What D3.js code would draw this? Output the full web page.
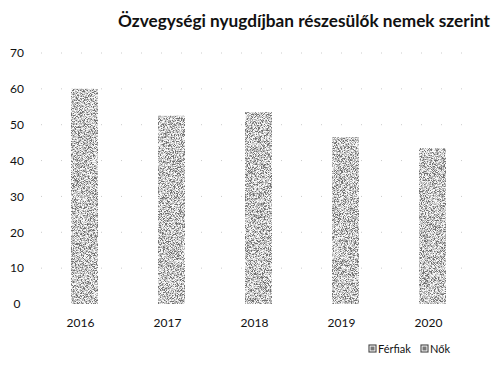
<!DOCTYPE html>
<html>
<head>
<meta charset="utf-8">
<script src="https://cdn.jsdelivr.net/npm/d3@7"></script>
<style>
  html, body { margin: 0; padding: 0; background: #fff; }
  svg { display: block; }
  text { font-family: Lato, "Open Sans", sans-serif; fill: #111; }
</style>
</head>
<body>
<svg id="chart" width="495" height="371"></svg>
<script>
// Chart data
const title = "Özvegységi nyugdíjban részesülők nemek szerint";
const years = ["2016", "2017", "2018", "2019", "2020"];
const values = [60, 52.5, 53.5, 46.5, 43.5];
const yTicks = [0, 10, 20, 30, 40, 50, 60, 70];
const legendLabels = ["Férfiak", "Nők"];

const svg = d3.select("#chart");

// Speckled print-like texture for the bars
const defs = svg.append("defs");
const f = defs.append("filter").attr("id", "grain")
  .attr("x", "0").attr("y", "0").attr("width", "1").attr("height", "1")
  .attr("filterUnits", "objectBoundingBox");
f.append("feTurbulence").attr("type", "fractalNoise")
  .attr("baseFrequency", "1.3").attr("numOctaves", 2).attr("seed", 7).attr("result", "noise");
f.append("feColorMatrix").attr("in", "noise").attr("type", "matrix")
  .attr("values", "0 0 0 0 0  0 0 0 0 0  0 0 0 0 0  3 0 0 0 -1.05").attr("result", "a");
f.append("feComponentTransfer").attr("in", "a").attr("result", "b")
  .append("feFuncA").attr("type", "discrete").attr("tableValues", "0.04 0.22 0.45 0.75");
f.append("feComposite").attr("in", "SourceGraphic").attr("in2", "b").attr("operator", "in");

const x = d3.scaleBand().domain(years).range([41, 476]).paddingInner(0.69).paddingOuter(0.345);
const y = d3.scaleLinear().domain([0, 70]).range([304, 53]);

// Faint dotted gridlines
svg.append("g").selectAll("line").data(yTicks.filter(d => d > 0)).join("line")
  .attr("x1", 41).attr("x2", 476)
  .attr("y1", d => y(d)).attr("y2", d => y(d))
  .attr("stroke", "#ccc").attr("stroke-width", 1)
  .attr("stroke-dasharray", "1,19");

// Y axis labels
const yAxis = d3.axisLeft(y).tickValues(yTicks).tickSize(0).tickPadding(0);
const gy = svg.append("g").attr("transform", "translate(17,0)").call(yAxis);
gy.select(".domain").remove();
gy.selectAll("text").attr("text-anchor", "middle").attr("font-size", 12)
  .style("font-family", "Lato, sans-serif").attr("fill", "#222");

// Bars
svg.append("g").selectAll("rect").data(years).join("rect")
  .attr("x", d => x(d))
  .attr("y", (d, i) => y(values[i]))
  .attr("width", x.bandwidth())
  .attr("height", (d, i) => y(0) - y(values[i]))
  .attr("fill", "#454545")
  .attr("filter", "url(#grain)");

// X axis labels
const xAxis = d3.axisBottom(x).tickSize(0).tickPadding(0);
const gx = svg.append("g").attr("transform", "translate(-4,318)").call(xAxis);
gx.select(".domain").remove();
gx.selectAll("text").attr("font-size", 12).attr("dy", "0.71em")
  .style("font-family", "Lato, sans-serif").attr("fill", "#222");

// Title
svg.append("text").attr("x", 118).attr("y", 27)
  .attr("font-size", 17).attr("font-weight", "bold")
  .attr("textLength", 372).attr("lengthAdjust", "spacingAndGlyphs")
  .style("font-family", "Lato, sans-serif")
  .text(title);

// Legend
const legendX = [369, 421];
const lg = svg.append("g").selectAll("g").data(legendLabels).join("g")
  .attr("transform", (d, i) => `translate(${legendX[i]},353)`);
lg.append("rect").attr("x", 0).attr("y", -8).attr("width", 7).attr("height", 7)
  .attr("fill", "#fff").attr("stroke", "#444").attr("stroke-width", 1.1);
lg.append("rect").attr("x", 1.5).attr("y", -6.5).attr("width", 4).attr("height", 4)
  .attr("fill", "#777");
lg.append("text").attr("x", 9).attr("y", 0).attr("font-size", 11)
  .style("font-family", "Lato, sans-serif").attr("fill", "#333")
  .text(d => d);
</script>
</body>
</html>
